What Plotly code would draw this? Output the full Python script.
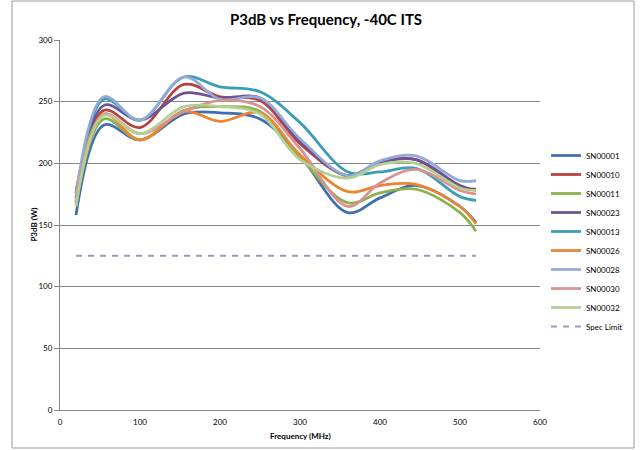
import plotly.graph_objects as go

freq = [20, 55, 100, 155, 200, 250, 300, 360, 400, 445, 500, 520]

names = ["SN00001", "SN00010", "SN00011", "SN00023", "SN00013",
         "SN00026", "SN00028", "SN00030", "SN00032"]

sn00001 = [158, 231, 219, 240, 241, 236, 206, 160, 172, 182, 165, 152]
sn00010 = [176, 243, 229, 264, 254, 251, 216, 190, 201, 203, 181, 179]
sn00011 = [166, 236, 219, 243, 246, 242, 205, 168, 176, 179, 160, 145]
sn00023 = [172, 247, 235, 257, 253, 253, 218, 190, 201, 203, 182, 178]
sn00013 = [168, 252, 235, 270, 262, 258, 233, 193, 193, 196, 173, 170]
sn00026 = [178, 240, 219, 242, 234, 241, 207, 177, 182, 183, 165, 151]
sn00028 = [174, 254, 235, 270, 252, 253, 220, 190, 202, 206, 186, 186]
sn00030 = [170, 240, 224, 242, 251, 246, 212, 165, 184, 195, 178, 175]
sn00032 = [165, 239, 224, 246, 246, 240, 203, 188, 199, 200, 180, 178]

spec_freq = [20, 520]
spec_limit = [125, 125]

x_ticks = [0, 100, 200, 300, 400, 500, 600]
y_ticks = [0, 50, 100, 150, 200, 250, 300]

series = [sn00001, sn00010, sn00011, sn00023, sn00013,
          sn00026, sn00028, sn00030, sn00032]
colors = ["#3F6FB0", "#B7403D", "#8CB04A", "#6E5096", "#3A9DB8",
          "#EC8530", "#92AAD6", "#D89292", "#B5CF92"]

FONT = "Lato"

fig = go.Figure()
for name, vals, col in zip(names, series, colors):
    fig.add_trace(go.Scatter(x=freq, y=vals, name=name, mode="lines",
                             line=dict(color=col, width=2.75, shape="spline", smoothing=1.0)))
fig.add_trace(go.Scatter(x=spec_freq, y=spec_limit, name="Spec Limit", mode="lines",
                         line=dict(color="#A295C2", width=2, dash="6px,6px")))

fig.update_layout(
    width=641, height=450,
    margin=dict(l=60, r=101, t=40, b=40),
    paper_bgcolor="white", plot_bgcolor="white",
    font=dict(family=FONT, size=8, color="#000000"),
    title=dict(text="<b>P3dB vs Frequency, -40C ITS</b>", x=326/641, xanchor="center",
               y=1 - 20/450, yanchor="middle", font=dict(size=15, family=FONT)),
    showlegend=True,
    legend=dict(x=(546 - 60) / 480, y=(410 - 241) / 370, xanchor="left", yanchor="middle",
                font=dict(size=8, family=FONT), tracegroupgap=0,
                bgcolor="rgba(0,0,0,0)"),
    xaxis=dict(range=[0, 600], tickvals=x_ticks, showgrid=False, zeroline=False,
               showline=True, linecolor="#868686", linewidth=1, ticks="",
               tickfont=dict(size=8), ticklabelstandoff=4),
    yaxis=dict(range=[0, 300], tickvals=y_ticks, showgrid=True, gridcolor="#868686",
               gridwidth=1, zeroline=False, showline=True, linecolor="#868686",
               linewidth=1, ticks="outside", ticklen=5, tickcolor="#868686",
               tickfont=dict(size=8)),
    annotations=[
        dict(text="<b>Frequency (MHz)</b>", x=0.5, y=-(436 - 410) / 370, xref="paper",
             yref="paper", showarrow=False, xanchor="center", yanchor="middle",
             font=dict(size=8)),
        dict(text="<b>P3dB (W)</b>", x=-0.055, y=0.5, xref="paper", yref="paper",
             showarrow=False, textangle=-90, xanchor="center", yanchor="middle",
             font=dict(size=8)),
    ],
    shapes=[
        dict(type="rect", xref="paper", yref="paper", x0=-0.1, x1=(634 - 60) / 480,
             y0=-(448 - 410) / 370, y1=(410 - 1) / 370, line=dict(color="#9A9A9A", width=1),
             fillcolor="rgba(0,0,0,0)", layer="below"),
    ],
)

fig.write_html("out.html", config={"displayModeBar": False},
               post_script="document.body.style.margin='0';document.body.style.padding='0';")
